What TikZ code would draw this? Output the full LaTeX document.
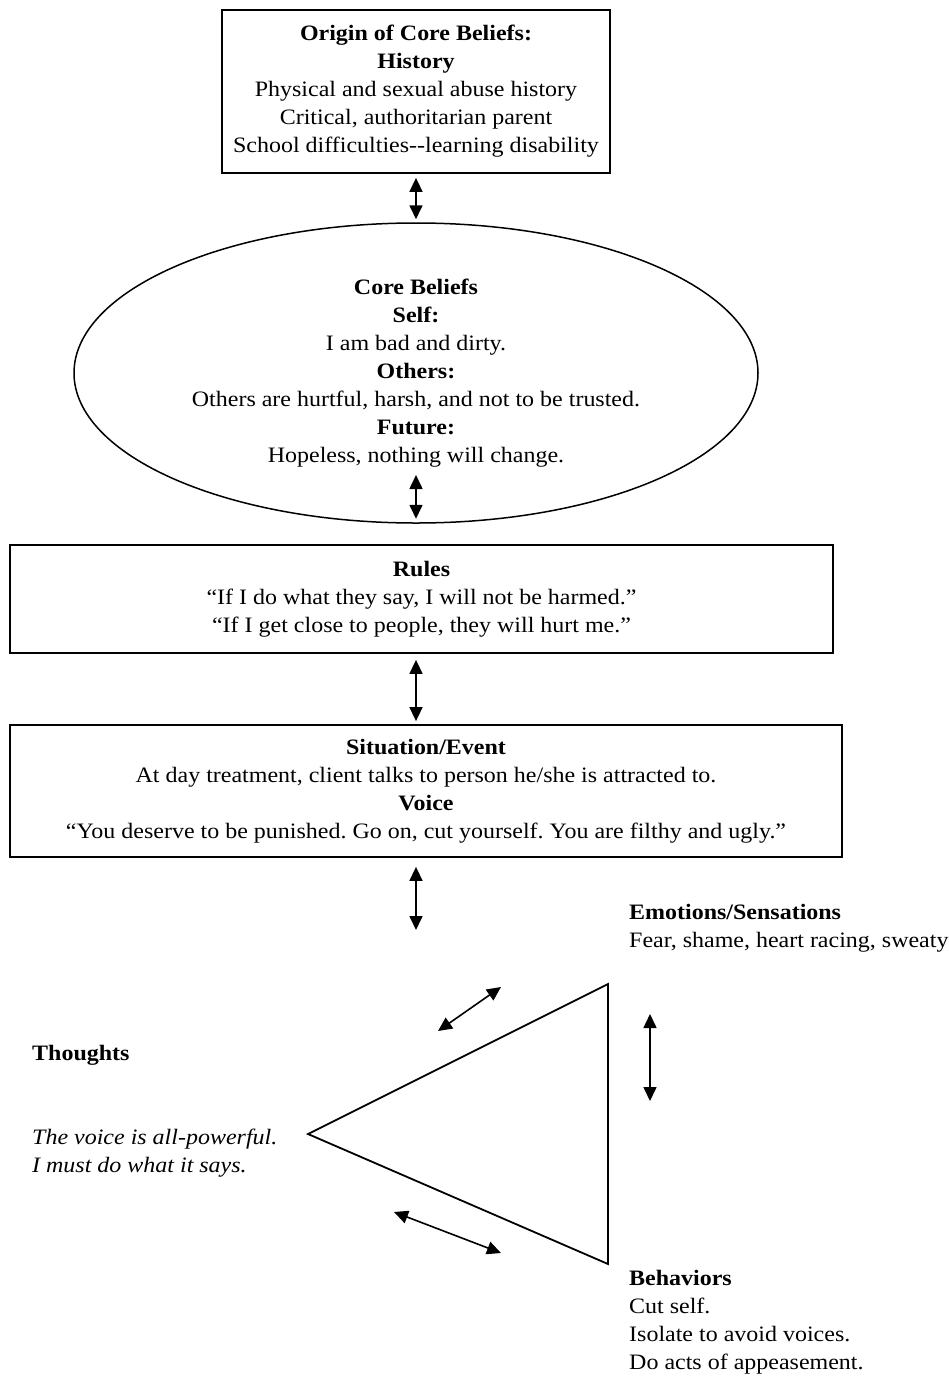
\documentclass[tikz,border=0pt]{standalone}
\usepackage{fontspec}
\setmainfont[FakeStretch=1.09]{Liberation Serif}
\usetikzlibrary{arrows.meta,shapes.geometric}
\frenchspacing
\tikzset{
  txt/.style={font=\fontsize{22}{28}\selectfont, align=center},
  frame/.style={draw, line width=1.8pt, inner sep=0pt, txt},
  dbl/.style={{Triangle[length=14pt,width=13pt]}-{Triangle[length=14pt,width=13pt]}, line width=1.6pt},
  label/.style={font=\fontsize{22}{28}\selectfont, align=left, anchor=north west, inner sep=0pt},
  tri/.style={line width=1.8pt, line join=miter}
}
\begin{document}
\begin{tikzpicture}[x=1pt, y=-1pt]
\useasboundingbox (0,0) rectangle (949,1377);

% history box
\node[frame, minimum width=388pt, minimum height=163pt] (origin) at (416,91.5)
  {\textbf{Origin of Core Beliefs:}\\ \textbf{History}\\ Physical and sexual abuse history\\ Critical, authoritarian parent\\ School difficulties-{}-learning disability};

% core beliefs ellipse
\node[frame, line width=1.5pt, ellipse, minimum width=684pt, minimum height=300pt] (core) at (416,373)
  {\textbf{Core Beliefs}\\ \textbf{Self:}\\ I am bad and dirty.\\ \textbf{Others:}\\ Others are hurtful, harsh, and not to be trusted.\\ \textbf{Future:}\\ Hopeless, nothing will change.};

% rules box
\node[frame, minimum width=823pt, minimum height=108pt] (rules) at (421.5,599)
  {\textbf{Rules}\\ “If I do what they say, I will not be harmed.”\\ “If I get close to people, they will hurt me.”};

% situation box
\node[frame, minimum width=832pt, minimum height=132pt] (sit) at (426,791)
  {\textbf{Situation/Event}\\ At day treatment, client talks to person he/she is attracted to.\\ \textbf{Voice}\\ “You deserve to be punished. Go on, cut yourself. You are filthy and ugly.”};

% vertical connectors
\draw[dbl] ([yshift=-4pt]origin.south) -- ([yshift=3pt]core.north);
\coordinate (coreIn) at (416,475);
\draw[dbl] (coreIn) -- ([yshift=5pt]core.south);
\draw[dbl] ([yshift=-6pt]rules.south -| core.center) -- ([yshift=3pt]sit.north -| core.center);
\coordinate (sitEnd) at (416,930);
\draw[dbl] ([yshift=-9pt]sit.south -| core.center) -- (sitEnd);

% cognitive triangle
\coordinate (tTop) at (608,984);
\coordinate (tLeft) at (308,1134);
\coordinate (tBot) at (608,1264);
\draw[tri] (tTop) -- (tLeft) -- (tBot) -- cycle;

\coordinate (a1s) at (438,1031);
\coordinate (a1e) at (501,987);
\draw[dbl] (a1s) -- (a1e);
\coordinate (a2s) at (650,1014);
\coordinate (a2e) at (650,1101);
\draw[dbl] (a2s) -- (a2e);
\coordinate (a3s) at (394,1212);
\coordinate (a3e) at (501,1253);
\draw[dbl] (a3s) -- (a3e);

% corner labels
\node[label] (emo) at (629,904) {\textbf{Emotions/Sensations}\\ Fear, shame, heart racing, sweaty};
\node[label] (thoughts) at (32,1045) {\textbf{Thoughts}};
\node[label] (thoughtsTxt) at (32,1129) {\textit{The voice is all-powerful.}\\ \textit{I must do what it says.}};
\node[label] (beh) at (629,1270) {\textbf{Behaviors}\\ Cut self.\\ Isolate to avoid voices.\\ Do acts of appeasement.};
\end{tikzpicture}
\end{document}
